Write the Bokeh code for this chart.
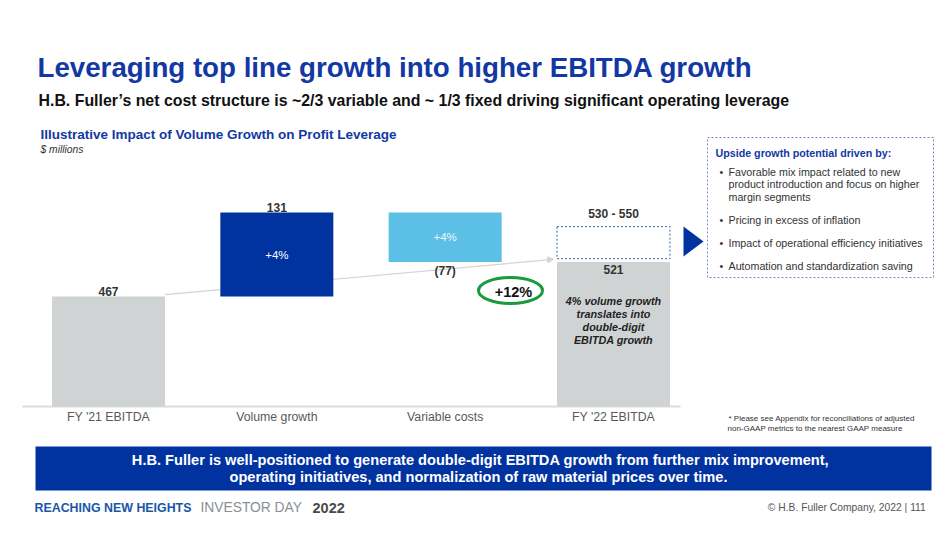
import numpy as np
from bokeh.plotting import figure
from bokeh.models import Range1d, ColumnDataSource, Label, Arrow, NormalHead
from bokeh.embed import file_html
from bokeh.resources import INLINE
from bokeh.core.properties import value

# ---------------- data ----------------
categories = ["FY '21 EBITDA", "Volume growth", "Variable costs", "FY '22 EBITDA"]
step_values = [467, 131, -77, 521]          # total, delta, delta, total
step_kind = ["total", "delta", "delta", "total"]
value_labels = ["467", "131", "(77)", "521"]
pct_labels = ["", "+4%", "+4%", ""]
bar_colors = ["#d0d3d4", "#0033a0", "#5bbfe6", "#d0d3d4"]
axis_floor = 295.4                            # illustrative (truncated) axis start
upside_range = [526, 576]                     # dashed upside box (illustrative)
upside_label = "530 - 550"
growth_label = "+12%"
note_lines = ["4% volume growth", "translates into", "double-digit", "EBITDA growth"]
upside_title = "Upside growth potential driven by:"
upside_items = [
    ["Favorable mix impact related to new", "product introduction and focus on higher", "margin segments"],
    ["Pricing in excess of inflation"],
    ["Impact of operational efficiency initiatives"],
    ["Automation and standardization saving"],
]

# ---------------- waterfall geometry from data ----------------
bottoms, tops = [], []
running = 0
for v, k in zip(step_values, step_kind):
    if k == "total":
        bottoms.append(axis_floor)
        tops.append(v)
        running = v
    else:
        if v < 0:
            bottoms.append(running + v)
            tops.append(running)
        else:
            bottoms.append(running)
            tops.append(running + v)
        running += v
idx = list(range(len(categories)))
mids = [(b + t) / 2 for b, t in zip(bottoms, tops)]

src = ColumnDataSource(dict(x=idx, bottom=bottoms, top=tops, color=bar_colors))

# ---------------- figure ----------------
W, H = 934, 518
p = figure(width=W, height=H, x_range=Range1d(0, W), y_range=Range1d(H, 0),
           output_backend="svg", toolbar_location=None, min_border=0,
           x_axis_location=None, y_axis_location=None)
p.grid.visible = False
p.outline_line_color = None
p.background_fill_color = "white"

UNIT = 168.33      # px per category
PXV = 0.641        # px per value unit
p.extra_x_ranges = {"idx": Range1d((0 - 108) / UNIT, (W - 108) / UNIT)}
p.extra_y_ranges = {"val": Range1d(467 - (H - 296) / PXV, 467 + 296 / PXV)}
BW = 113 / UNIT

FONT = "Liberation Sans"


def lab(x, y, text, size, color="#333333", style="normal", align="left", font=FONT, alpha=1.0):
    p.add_layout(Label(x=x, y=y, text=text, text_font_size=f"{size}px", text_color=color,
                       text_font_style=style, text_align=align, text_baseline="middle",
                       text_font=font, text_alpha=alpha))


# titles
lab(37, 67, "Leveraging top line growth into higher EBITDA growth", 27.7, "#1238a4", "bold")
lab(38, 100, "H.B. Fuller\u2019s net cost structure is ~2/3 variable and ~ 1/3 fixed driving significant operating leverage",
    15.9, "#111111", "bold")
lab(40, 134, "Illustrative Impact of Volume Growth on Profit Leverage", 13.5, "#1238a4", "bold")
lab(40, 149, "$ millions", 10.3, "#333333", "italic")

# connector arrow (behind bars)
arr = Arrow(x_start=0 + BW / 2, y_start=step_values[0] + 3,
            x_end=3 - BW / 2 - 0.02, y_end=upside_range[0] - 1,
            line_color="#d3d3d3", line_width=1.2,
            end=NormalHead(size=6, fill_color="#d3d3d3", line_color="#d3d3d3"),
            x_range_name="idx", y_range_name="val", level="underlay")
p.add_layout(arr)

# baseline
p.segment(x0=[22], x1=[680], y0=[axis_floor], y1=[axis_floor], y_range_name="val",
          line_color="#dcdcdc", line_width=2)

# bars
p.vbar(x="x", bottom="bottom", top="top", width=BW, fill_color="color", line_color=None,
       source=src, x_range_name="idx", y_range_name="val")

# upside dashed box
p.quad(left=[3 - BW / 2], right=[3 + BW / 2], bottom=[upside_range[0]], top=[upside_range[1]],
       fill_color=None, line_color="#3a62ad", line_dash="2 2", line_width=1,
       x_range_name="idx", y_range_name="val")

# percentage labels inside bars
p.text(x=[1], y=[mids[1]], text=[pct_labels[1]], x_range_name="idx", y_range_name="val",
       text_color="white", text_font_size="11.5px", text_font=value(FONT),
       text_align="center", text_baseline="middle")
p.text(x=[2], y=[mids[2]], text=[pct_labels[2]], x_range_name="idx", y_range_name="val",
       text_color="#eef8fd", text_font_size="11.5px", text_font=value(FONT),
       text_align="center", text_baseline="middle")

# value labels
vstyle = dict(text_color="#333333", text_font_size="12px", text_font_style="bold",
              text_font=value(FONT), text_align="center")
above = [0, 1]
p.text(x=[idx[i] for i in above], y=[tops[i] for i in above], text=[value_labels[i] for i in above],
       x_range_name="idx", y_range_name="val", text_baseline="bottom", y_offset=-1, **vstyle)
p.text(x=[2], y=[bottoms[2]], text=[value_labels[2]], x_range_name="idx", y_range_name="val",
       text_baseline="top", y_offset=2, **vstyle)
p.text(x=[3], y=[tops[3]], text=[value_labels[3]], x_range_name="idx", y_range_name="val",
       text_baseline="top", y_offset=3, **vstyle)
p.text(x=[3], y=[upside_range[1]], text=[upside_label], x_range_name="idx", y_range_name="val",
       text_baseline="bottom", y_offset=-6, **vstyle)

# note in FY22 bar
p.text(x=[3] * len(note_lines), y=[300 + 13.3 * i for i in range(len(note_lines))], text=note_lines,
       x_range_name="idx", text_color="#222222", text_font_size="10.8px",
       text_font_style="bold italic", text_font=value(FONT), text_align="center",
       text_baseline="middle")

# category labels
p.text(x=idx, y=[416] * len(idx), text=categories, x_range_name="idx",
       text_color="#595959", text_font_size="12.3px", text_font=value(FONT),
       text_align="center", text_baseline="middle")

# +12% ellipse
p.ellipse(x=[510], y=[290], width=[64], height=[26], fill_color=None,
          line_color="#1a9a3c", line_width=3)
lab(513, 291, growth_label, 14.5, "#111111", "bold", "center")

# arrow triangle
p.patch([683, 703, 683], [226, 241, 256], fill_color="#0033a0", line_color=None)

# right box
p.quad(left=[707], right=[933], top=[137], bottom=[277], fill_color="white",
       line_color="#6c8cc6", line_dash="2 2", line_width=1)
lab(715, 152, upside_title, 10.7, "#1238a4", "bold")
ys = [[171, 183, 196], [219], [242.5], [265.5]]
for item, yy in zip(upside_items, ys):
    lab(719, yy[0], "\u2022", 10.7, "#333333")
    for t, y in zip(item, yy):
        lab(728, y, t, 10.7, "#333333")

# footnote
lab(728, 418, "* Please see Appendix for reconciliations of adjusted", 8, "#333333")
lab(727, 428, "non-GAAP metrics to the nearest GAAP measure", 8, "#333333")

# banner
p.quad(left=[35], right=[931], top=[446], bottom=[490], fill_color="#0033a0", line_color=None)
lab(480, 459, "H.B. Fuller is well-positioned to generate double-digit EBITDA growth from further mix improvement,",
    14.6, "white", "bold", "center")
lab(478, 476, "operating initiatives, and normalization of raw material prices over time.",
    14.6, "white", "bold", "center")

# footer
lab(34, 507, "REACHING NEW HEIGHTS", 12.4, "#1a56a8", "bold")
lab(200, 507, "INVESTOR DAY", 13.8, "#8a8f96", "normal")
lab(312, 507, "2022", 14.5, "#4a4a4a", "bold")
lab(931, 507, "\u00a9 H.B. Fuller Company, 2022  |  111", 10.3, "#555555", "normal", "right")

open("out.html", "w").write(file_html(p, INLINE))
